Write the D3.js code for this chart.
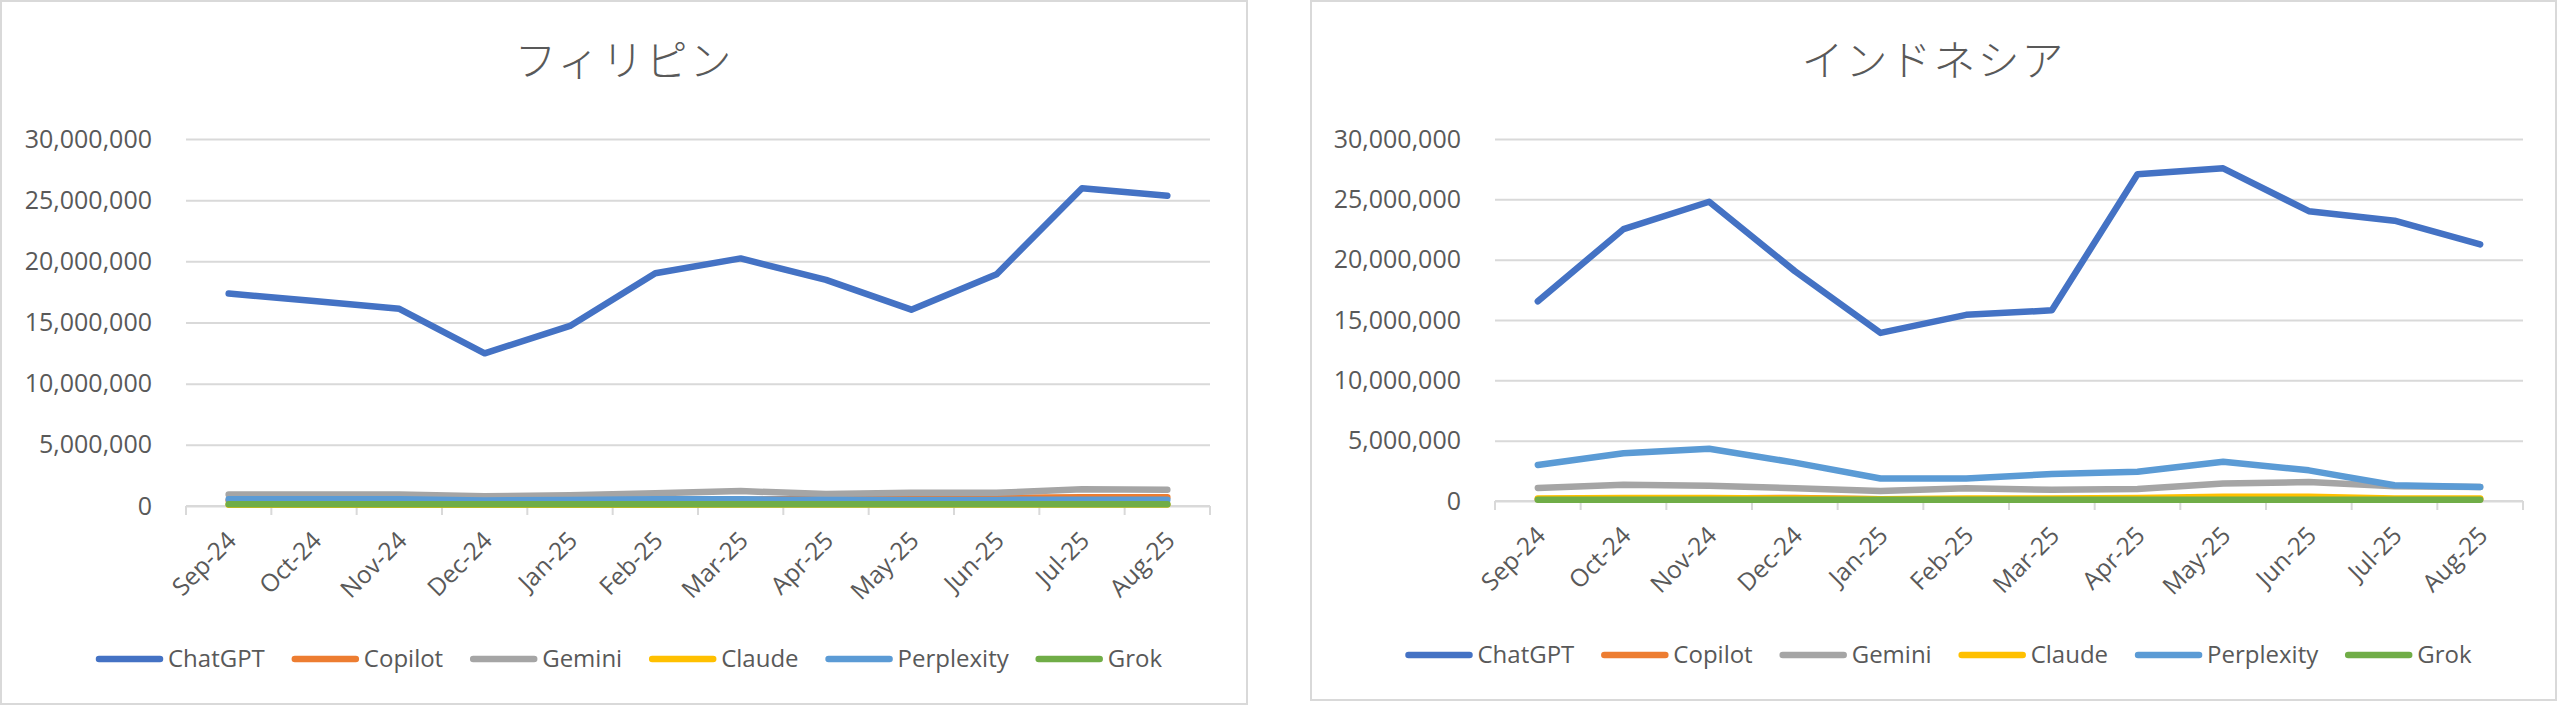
<!DOCTYPE html>
<html>
<head>
<meta charset="utf-8">
<script src="https://cdn.jsdelivr.net/npm/d3@7"></script>
<style>
  body { margin: 0; background: #fff; }
  svg { display: block; }
</style>
</head>
<body>
<svg id="chart" width="2560" height="707"></svg>
<script>
// months on the x axis
var months = ["Sep-24", "Oct-24", "Nov-24", "Dec-24", "Jan-25", "Feb-25",
              "Mar-25", "Apr-25", "May-25", "Jun-25", "Jul-25", "Aug-25"];
var seriesNames = ["ChatGPT", "Copilot", "Gemini", "Claude", "Perplexity", "Grok"];
var seriesColors = ["#4472C4", "#ED7D31", "#A5A5A5", "#FFC000", "#5B9BD5", "#70AD47"];
var yTicks = [0, 5000000, 10000000, 15000000, 20000000, 25000000, 30000000];

// フィリピン
var phChatGPT    = [17370000, 16750000, 16120000, 12480000, 14720000, 19030000, 20240000, 18480000, 16050000, 18950000, 25980000, 25360000];
var phCopilot    = [450000, 450000, 450000, 420000, 450000, 500000, 500000, 600000, 620000, 650000, 720000, 720000];
var phGemini     = [950000, 930000, 930000, 800000, 880000, 1050000, 1220000, 980000, 1080000, 1080000, 1360000, 1320000];
var phClaude     = [100000, 100000, 100000, 100000, 100000, 100000, 120000, 120000, 120000, 120000, 120000, 120000];
var phPerplexity = [550000, 550000, 550000, 450000, 500000, 550000, 550000, 500000, 500000, 500000, 520000, 520000];
var phGrok       = [150000, 150000, 150000, 150000, 150000, 150000, 150000, 150000, 150000, 150000, 150000, 150000];

// インドネシア
var idChatGPT    = [16550000, 22530000, 24800000, 19050000, 13930000, 15430000, 15800000, 27080000, 27570000, 24020000, 23230000, 21260000];
var idCopilot    = [150000, 200000, 200000, 250000, 150000, 150000, 150000, 150000, 200000, 200000, 150000, 150000];
var idGemini     = [1080000, 1340000, 1270000, 1050000, 820000, 1050000, 930000, 1000000, 1460000, 1570000, 1230000, 1160000];
var idClaude     = [200000, 250000, 250000, 200000, 150000, 200000, 200000, 250000, 350000, 350000, 200000, 200000];
var idPerplexity = [2990000, 3960000, 4330000, 3180000, 1870000, 1870000, 2240000, 2430000, 3250000, 2540000, 1310000, 1160000];
var idGrok       = [100000, 100000, 100000, 100000, 100000, 100000, 100000, 100000, 100000, 100000, 100000, 100000];

var svg = d3.select("#chart");
var latin = "'Open Sans', 'Noto Sans', sans-serif";
var textColor = "#595959";

function drawChart(title, data, box, plot) {
    var g = svg.append("g");

    g.append("rect")
        .attr("x", box.x).attr("y", box.y)
        .attr("width", box.w).attr("height", box.h)
        .attr("fill", "#fff")
        .attr("stroke", "#d9d9d9")
        .attr("stroke-width", 2);

    g.append("text")
        .attr("x", box.x + box.w / 2)
        .attr("y", 76)
        .attr("text-anchor", "middle")
        .attr("fill", textColor)
        .style("font-family", "'Noto Sans CJK JP', sans-serif")
        .style("font-weight", 300)
        .style("font-size", "42px")
        .style("letter-spacing", "2px")
        .text(title);

    var x = d3.scaleBand().domain(months).range([plot.left, plot.right]);
    var y = d3.scaleLinear().domain([0, 30000000]).range([plot.bottom, plot.top]);

    // gridlines + y labels
    var yAxis = g.append("g")
        .attr("transform", "translate(" + plot.left + ",0)")
        .call(d3.axisLeft(y)
            .tickValues(yTicks)
            .tickSize(-(plot.right - plot.left))
            .tickPadding(34)
            .tickFormat(d3.format(",")));
    yAxis.select(".domain").remove();
    yAxis.selectAll(".tick line").attr("stroke", "#d9d9d9").attr("stroke-width", 2);
    yAxis.selectAll(".tick text")
        .attr("fill", textColor)
        .style("font-family", latin)
        .style("font-size", "25px");

    // x axis line with tick marks between categories
    var bounds = months.map(function(m) { return x(m); }).concat([plot.right]);
    g.append("line")
        .attr("x1", plot.left).attr("x2", plot.right)
        .attr("y1", plot.bottom).attr("y2", plot.bottom)
        .attr("stroke", "#d9d9d9").attr("stroke-width", 2);
    g.selectAll("line.xtick").data(bounds).enter()
        .append("line")
        .attr("class", "xtick")
        .attr("x1", function(d) { return d; }).attr("x2", function(d) { return d; })
        .attr("y1", plot.bottom).attr("y2", plot.bottom + 9)
        .attr("stroke", "#d9d9d9").attr("stroke-width", 2);

    g.selectAll("text.xlab").data(months).enter()
        .append("text")
        .attr("class", "xlab")
        .attr("text-anchor", "end")
        .attr("transform", function(d) {
            return "translate(" + (x(d) + x.bandwidth() / 2 + 9) + "," + (plot.bottom + 36) + ") rotate(-45)";
        })
        .attr("fill", textColor)
        .style("font-family", latin)
        .style("font-size", "24.5px")
        .text(function(d) { return d; });

    var line = d3.line()
        .x(function(d, i) { return x(months[i]) + x.bandwidth() / 2; })
        .y(function(d) { return y(d); });

    data.forEach(function(vals, k) {
        g.append("path")
            .attr("d", line(vals))
            .attr("fill", "none")
            .attr("stroke", seriesColors[k])
            .attr("stroke-width", 6.5)
            .attr("stroke-linecap", "round")
            .attr("stroke-linejoin", "round");
    });

    // legend
    var leg = g.append("g");
    var cx = 0;
    seriesNames.forEach(function(name, k) {
        var item = leg.append("g").attr("transform", "translate(" + cx + ",0)");
        item.append("line")
            .attr("x1", 3).attr("x2", 64)
            .attr("y1", 0).attr("y2", 0)
            .attr("stroke", seriesColors[k])
            .attr("stroke-width", 6.5)
            .attr("stroke-linecap", "round");
        var t = item.append("text")
            .attr("x", 72)
            .attr("y", 0)
            .attr("dy", "0.35em")
            .attr("fill", textColor)
            .style("font-family", latin)
            .style("font-size", "24px")
            .text(name);
        cx += 72 + t.node().getComputedTextLength() + 27;
    });
    var legW = cx - 27;
    leg.attr("transform", "translate(" + (box.x + box.w / 2 + 5 - legW / 2) + "," + box.legendY + ")");
}

drawChart("フィリピン",
    [phChatGPT, phCopilot, phGemini, phClaude, phPerplexity, phGrok],
    { x: 1, y: 1, w: 1246, h: 703, legendY: 659 },
    { left: 186, right: 1210, top: 139, bottom: 506 });

drawChart("インドネシア",
    [idChatGPT, idCopilot, idGemini, idClaude, idPerplexity, idGrok],
    { x: 1311, y: 1, w: 1245, h: 699, legendY: 655 },
    { left: 1495, right: 2523, top: 139, bottom: 501 });
</script>
</body>
</html>
